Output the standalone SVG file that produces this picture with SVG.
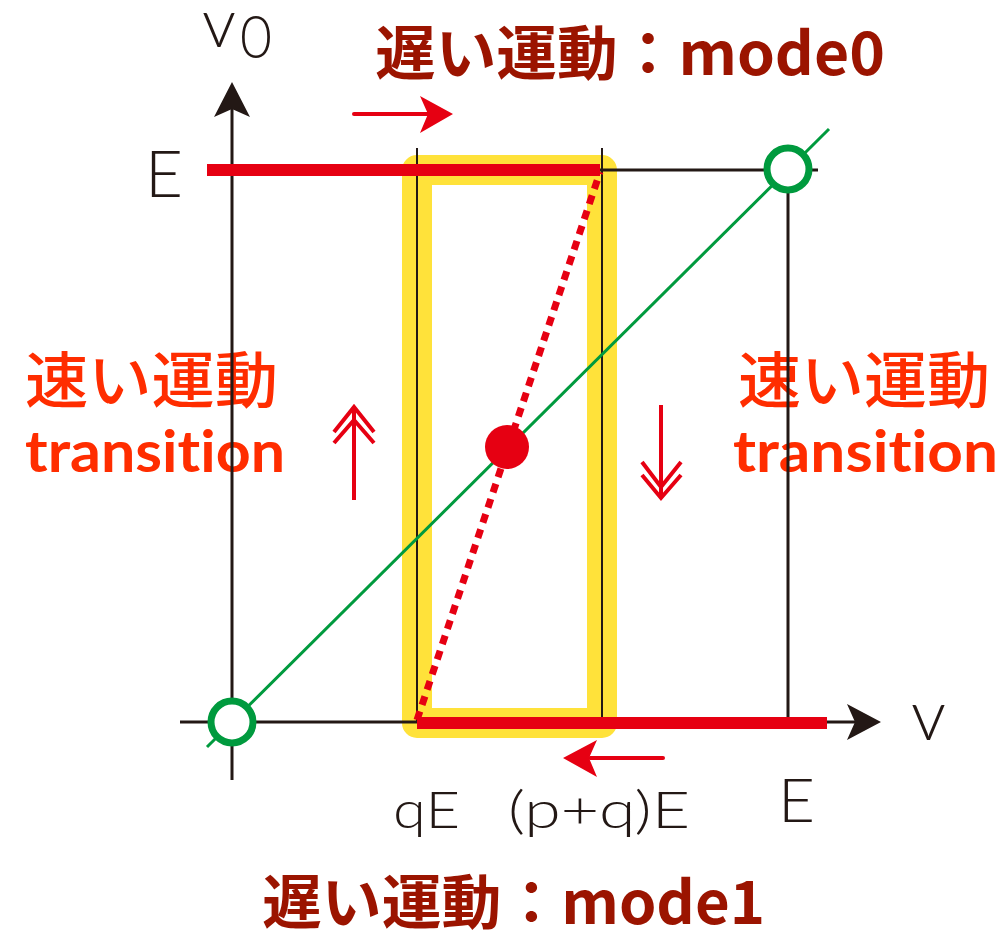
<svg xmlns="http://www.w3.org/2000/svg" width="1006" height="935" viewBox="0 0 1006 935">
<style>
.title{font-family:"Noto Sans CJK JP","Noto Sans",sans-serif;font-weight:700;font-size:59px;fill:#9B1400}
.fastj{font-family:"Noto Sans CJK JP",sans-serif;font-weight:500;font-size:61px;fill:#FF2D00}
.fastl{font-family:Lato,"Noto Sans",sans-serif;font-weight:700;font-size:57px;fill:#FF2D00;font-variant-ligatures:none;font-feature-settings:"liga" 0,"dlig" 0}
.num{font-family:Lato,"Open Sans",sans-serif;font-weight:300;fill:#231815}
.blk{stroke:#231815;fill:none}
.red{stroke:#E60012;fill:none}
.grn{stroke:#009A3E;fill:none}
</style>
<g id="labels">
<text class="title" x="375" y="75" textLength="510" lengthAdjust="spacingAndGlyphs">遅い運動：mode0</text>
<text class="title" x="262" y="924" textLength="503" lengthAdjust="spacingAndGlyphs">遅い運動：mode1</text>
<text class="fastj" x="25" y="403" textLength="253" lengthAdjust="spacingAndGlyphs">速い運動</text>
<text class="fastl" x="25" y="472" textLength="260" lengthAdjust="spacingAndGlyphs">transition</text>
<text class="fastj" x="738" y="403" textLength="252" lengthAdjust="spacingAndGlyphs">速い運動</text>
<text class="fastl" x="733" y="472" textLength="265" lengthAdjust="spacingAndGlyphs">transition</text>
<text class="num" x="202" y="47" font-size="68" textLength="34" lengthAdjust="spacingAndGlyphs">v</text>
<text class="num" x="240" y="58" font-size="60" textLength="32" lengthAdjust="spacingAndGlyphs">0</text>
<text class="num" x="145" y="197" font-size="65" textLength="38" lengthAdjust="spacingAndGlyphs">E</text>
<text class="num" x="778" y="822" font-size="61" textLength="37" lengthAdjust="spacingAndGlyphs">E</text>
<text class="num" x="911" y="740" font-size="70" textLength="35" lengthAdjust="spacingAndGlyphs">v</text>
<text class="num" x="393" y="828" font-size="51" textLength="67" lengthAdjust="spacingAndGlyphs">qE</text>
<text class="num" x="508" y="828" font-size="51" textLength="182" lengthAdjust="spacingAndGlyphs">(p+q)E</text>
</g>
<g id="band">
<rect x="417" y="170" width="185" height="553" fill="none" stroke="#FFE23A" stroke-width="30" stroke-linejoin="round"/>
</g>
<g id="connectors">
<line class="blk" x1="232" y1="780" x2="232" y2="108" stroke-width="3"/>
<polygon points="232,82 250,117 232,109 214,117" fill="#231815"/>
<line class="blk" x1="180" y1="722" x2="856" y2="722" stroke-width="3"/>
<polygon points="881,722 847,740 855,722 847,704" fill="#231815"/>
<line class="blk" x1="600" y1="170" x2="818" y2="170" stroke-width="3"/>
<line class="blk" x1="788" y1="170" x2="788" y2="722" stroke-width="3"/>
<line class="blk" x1="417" y1="148" x2="417" y2="722" stroke-width="2"/>
<line class="blk" x1="602" y1="148" x2="602" y2="722" stroke-width="2"/>
<line class="red" x1="207" y1="170" x2="600" y2="170" stroke-width="12"/>
<line class="red" x1="417" y1="723" x2="827" y2="723" stroke-width="12"/>
<line class="red" x1="417" y1="720" x2="600" y2="172" stroke-width="7" stroke-dasharray="9 7"/>
<line class="grn" x1="207" y1="747" x2="829" y2="129" stroke-width="3"/>
<line class="red" x1="354" y1="114" x2="430" y2="114" stroke-width="4" stroke-linecap="round"/>
<polygon points="453,114 420,96 428,114 420,133" fill="#E60012"/>
<line class="red" x1="663" y1="758" x2="590" y2="758" stroke-width="4" stroke-linecap="round"/>
<polygon points="563,758 597,740 589,758 597,777" fill="#E60012"/>
<path class="red" d="M354,500 L354,410 M334,432 L354,407 L374,432 M334,443 L354,420 L374,443" stroke-width="4"/>
<path class="red" d="M661,405 L661,495 M642,462 L661,487 L681,462 M642,475 L661,498 L681,475" stroke-width="4"/>
</g>
<g id="points">
<circle cx="232" cy="722" r="21" fill="#fff" stroke="#009A3E" stroke-width="7"/>
<circle cx="788" cy="169" r="21" fill="#fff" stroke="#009A3E" stroke-width="7"/>
<circle cx="507" cy="447" r="22" fill="#E60012"/>
</g>
</svg>
